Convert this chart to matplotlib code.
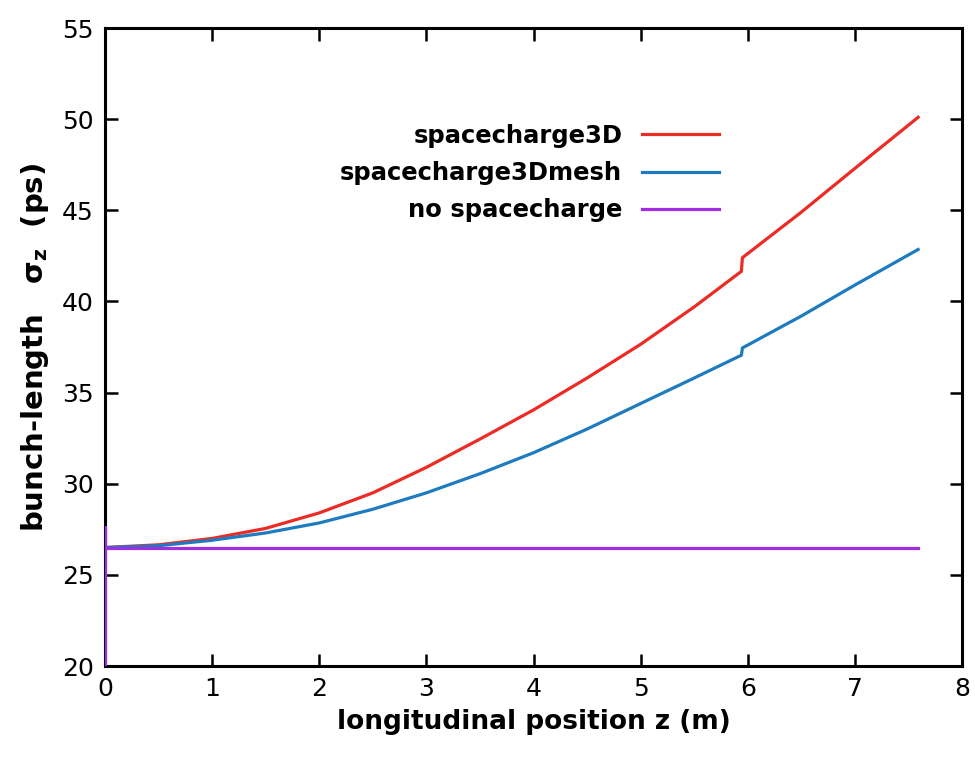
import matplotlib
matplotlib.use('Agg')
import matplotlib.pyplot as plt

# bunch length along the beamline
z_sc3d = [0.0, 0.5, 1.0, 1.5, 2.0, 2.5, 3.0, 3.5, 4.0, 4.5, 5.0, 5.5, 5.94, 5.95, 6.5, 7.0, 7.59]
sigma_sc3d = [26.5, 26.65, 27.0, 27.55, 28.4, 29.5, 30.9, 32.45, 34.05, 35.8, 37.65, 39.7, 41.65, 42.4, 44.9, 47.3, 50.1]

z_mesh = [0.0, 0.5, 1.0, 1.5, 2.0, 2.5, 3.0, 3.5, 4.0, 4.5, 5.0, 5.5, 5.94, 5.95, 6.5, 7.0, 7.59]
sigma_mesh = [26.5, 26.6, 26.9, 27.3, 27.85, 28.6, 29.5, 30.55, 31.7, 33.0, 34.4, 35.8, 37.05, 37.45, 39.2, 40.9, 42.85]

z_nosc = [0.0, 0.0, 0.0, 7.59]
sigma_nosc = [20.0, 27.6, 26.5, 26.5]

labels = ['spacecharge3D', 'spacecharge3Dmesh', 'no spacecharge']
colors = ['#ec2b25', '#1f7bbf', '#a02ee0']

fig = plt.figure(figsize=(9.75, 7.61), dpi=100)
ax = fig.add_axes([0.1077, 0.1248, 0.879, 0.8384])

ax.plot(z_sc3d, sigma_sc3d, color=colors[0], lw=2.3, label=labels[0])
ax.plot(z_mesh, sigma_mesh, color=colors[1], lw=2.3, label=labels[1])
# the purple trace starts with a spike on the left border, so draw it above the spine
ax.plot(z_nosc, sigma_nosc, color=colors[2], lw=2.3, label=labels[2], zorder=3)

ax.set_xlim(0, 8)
ax.set_ylim(20, 55)
ax.set_xticks(range(0, 9))
ax.set_yticks(range(20, 56, 5))

for s in ax.spines.values():
    s.set_linewidth(2.2)
ax.tick_params(direction='in', length=9, width=1.8, top=True, right=True,
               labelsize=18, pad=8)

ax.set_xlabel('longitudinal position z (m)', fontsize=19, fontweight='bold',
              labelpad=6)
ax.set_ylabel('bunch-length   σ$_\\mathregular{z}$  (ps)', fontsize=21,
              fontweight='bold', labelpad=8)

leg = ax.legend(loc='upper right', bbox_to_anchor=(0.717, 0.85),
                frameon=False, markerfirst=False, handlelength=3.2,
                handletextpad=0.8, labelspacing=0.55, borderaxespad=0,
                borderpad=0, prop={'weight': 'bold', 'size': 17.5})

fig.savefig('out.png', dpi=100)
